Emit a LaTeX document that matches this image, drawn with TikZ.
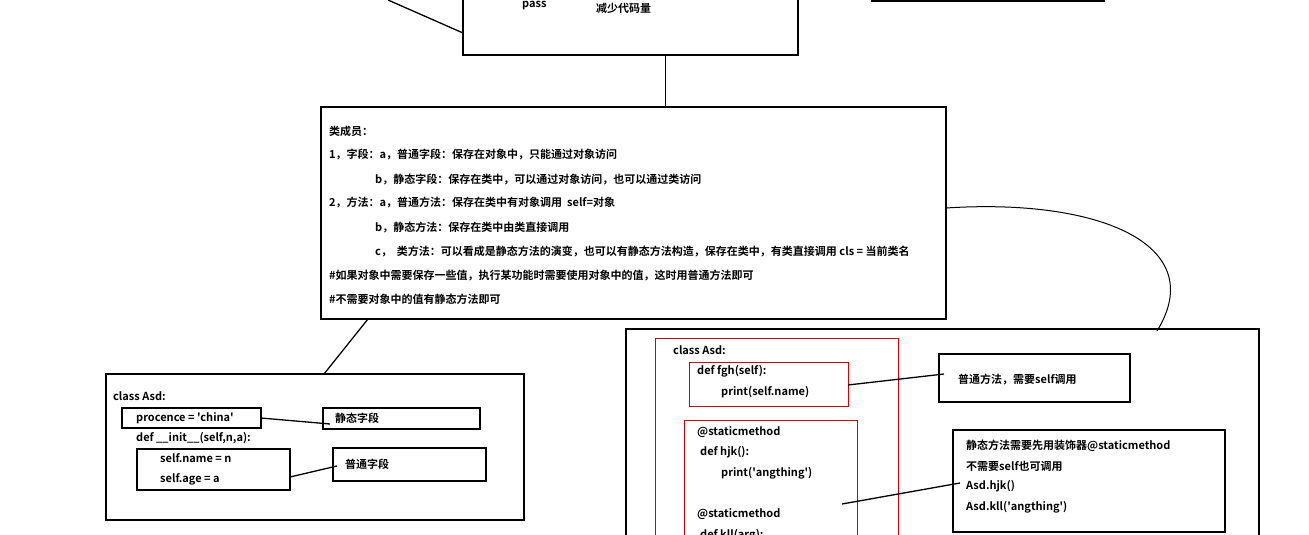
\documentclass[tikz,border=0pt]{standalone}
\usepackage{fontspec}
\newfontfamily\cjk{Noto Sans CJK SC}[BoldFont={Noto Sans CJK SC Bold}]
\begin{document}
\begin{tikzpicture}[x=1pt,y=-1pt,
  bx/.style={draw=black,line width=1.6pt},
  rb/.style={draw=red!85!black,line width=1pt},
  ln/.style={draw=black,line width=1.3pt},
  t/.style={anchor=west,inner sep=0pt,font=\cjk\bfseries\fontsize{11}{12}\selectfont}]
\useasboundingbox (0,0) rectangle (1309,535);
\begin{scope}
\clip (0,0) rectangle (1309,535);
% top
\draw[bx] (463,-10) rectangle (798,55);
\coordinate (tl) at (388,0);
\draw[ln] (tl) -- (463,33);
\node[t] (p1) at (522,6) {pass};
\node[t] (p2) at (596,8) {减少代码量};
\draw[bx] (872,-10) rectangle (1104,1);
\draw[ln,line width=1pt] (665,55) -- (665,107);
% main
\draw[bx] (321,107) rectangle (946,319);
\node[t] at (329,131) {类成员：};
\node[t] at (329,155) {1，字段：a，普通字段：保存在对象中，只能通过对象访问};
\node[t] at (375,180) {b，静态字段：保存在类中，可以通过对象访问，也可以通过类访问};
\node[t] at (329,203) {2，方法：a，普通方法：保存在类中有对象调用\ \ self=对象};
\node[t] at (375,228) {b，静态方法：保存在类中由类直接调用};
\node[t] at (375,252) {c，\ \ 类方法：可以看成是静态方法的演变，也可以有静态方法构造，保存在类中，有类直接调用 cls = 当前类名};
\node[t] at (329,276) {\#如果对象中需要保存一些值，执行某功能时需要使用对象中的值，这时用普通方法即可};
\node[t] at (329,299) {\#不需要对象中的值有静态方法即可};
\draw[line width=1pt] (946,208) .. controls (1100,198) and (1210,245) .. (1157,331);
\draw[ln] (368,319) -- (324,374);
% left
\draw[bx] (106,374) rectangle (524,520);
\node[t] at (113,396) {class Asd:};
\draw[bx] (122,408) rectangle (261,428);
\node[t] at (136,418) {procence = 'china'};
\draw[bx] (323,408) rectangle (480,429);
\node[t] at (335,418) {静态字段};
\draw[ln] (261,418) -- (330,424);
\node[t] at (136,438) {def \_\_init\_\_(self,n,a):};
\draw[bx] (137,449) rectangle (290,490);
\node[t] at (160,458) {self.name = n};
\node[t] at (160,479) {self.age = a};
\draw[bx] (333,448) rectangle (486,481);
\node[t] at (345,464) {普通字段};
\draw[ln] (290,477) -- (337,466);
% right
\draw[line width=1.2pt] (626,329) rectangle (1259,545);
\draw[rb] (655,338) rectangle (898,545);
\node[t] at (673,350) {class Asd:};
\draw[rb] (689,362) rectangle (848,406);
\node[t] at (697,371) {def fgh(self):};
\node[t] at (721,392) {print(self.name)};
\draw[bx,line width=1.3pt] (939,354) rectangle (1130,402);
\node[t] at (958,380) {普通方法，需要self调用};
\draw[ln] (848,385) -- (944,374);
\draw[rb] (684,420) rectangle (857,545);
\node[t] at (697,432) {@staticmethod};
\node[t] at (700,452) {def hjk():};
\node[t] at (721,473) {print('angthing')};
\node[t] at (697,514) {@staticmethod};
\node[t] at (700,535) {def kll(arg):};
\draw[bx,line width=1.3pt] (953,430) rectangle (1225,532);
\node[t] at (966,446) {静态方法需要先用装饰器@staticmethod};
\node[t] at (966,466) {不需要self也可调用};
\node[t] at (966,486) {Asd.hjk()};
\node[t] at (966,507) {Asd.kll('angthing')};
\draw[ln] (842,504) -- (960,483);
\end{scope}
\end{tikzpicture}
\end{document}
